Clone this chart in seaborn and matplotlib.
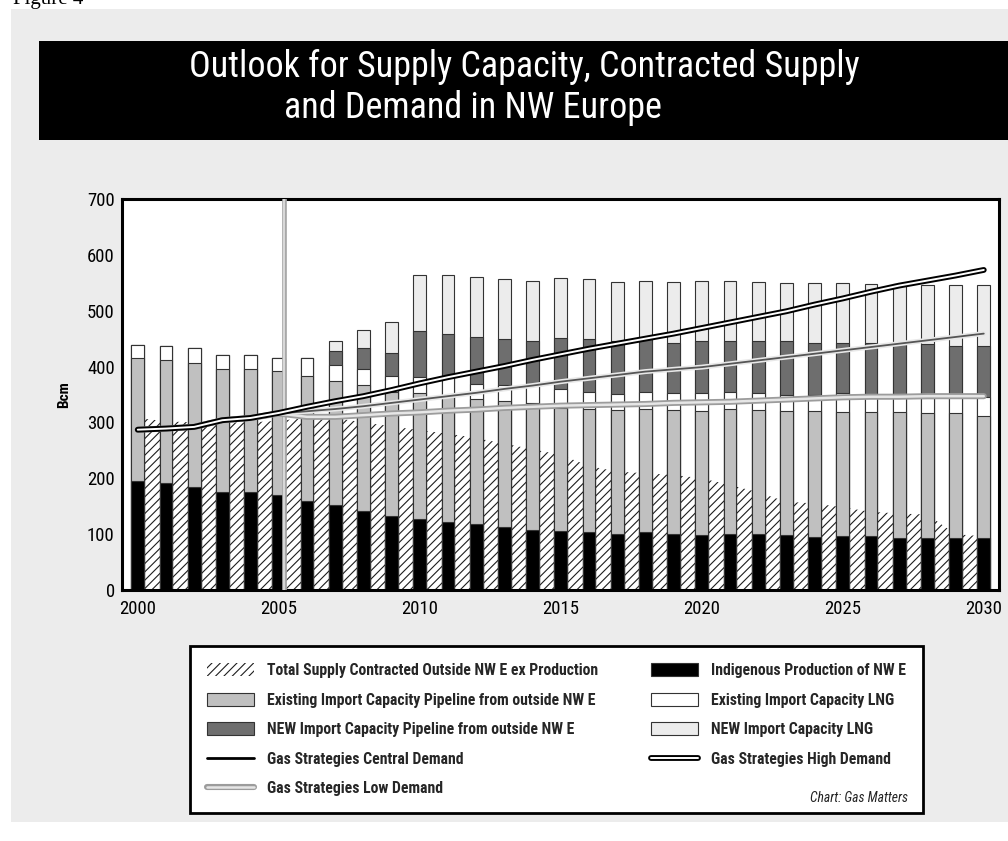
import numpy as np
import pandas as pd
import matplotlib
matplotlib.use("Agg")
import matplotlib.pyplot as plt
import matplotlib.patheffects as pe
from matplotlib import font_manager as fm
from matplotlib.patches import Patch, Rectangle
from matplotlib.lines import Line2D
import seaborn as sns

# ---------------- data ----------------
years = list(range(2000, 2031))
indigenous = [196, 191, 185, 175, 175, 170, 160, 152, 142, 133, 128, 122, 119, 113, 107, 106,
              103, 101, 103, 100, 99, 101, 101, 99, 94, 97, 97, 93, 93, 93, 93]
existing_pipeline = [219, 221, 222, 221, 221, 222, 223, 222, 225, 222, 225, 226, 223, 226, 227, 219,
                     221, 221, 221, 222, 221, 223, 221, 221, 226, 221, 221, 225, 223, 223, 219]
existing_lng = [24, 24, 26, 25, 25, 24, 32, 29, 29, 29, 29, 34, 27, 28, 35, 34,
                31, 29, 31, 30, 32, 30, 30, 29, 30, 34, 29, 30, 27, 29, 33]
new_pipeline = [0, 0, 0, 0, 0, 0, 0, 25, 38, 41, 82, 76, 84, 82, 77, 93,
                94, 95, 95, 91, 94, 92, 94, 97, 93, 90, 95, 92, 97, 92, 92]
new_lng = [0, 0, 0, 0, 0, 0, 0, 18, 31, 54, 100, 106, 107, 107, 108, 106,
           107, 105, 104, 108, 108, 108, 105, 103, 106, 107, 105, 107, 106, 109, 109]
contracted = [308, 302, 300, 300, 300, 303, 308, 308, 300, 293, 286, 280, 272, 262, 252, 242,
              222, 212, 209, 206, 200, 188, 175, 158, 155, 148, 140, 137, 135, 100, 96]
demand_high = [287, 289, 292, 304, 308, 317, 328, 338, 347, 358, 370, 381, 391, 401, 412, 422,
               432, 441, 450, 459, 469, 479, 489, 499, 511, 522, 534, 545, 554, 563, 573]
demand_central = [287, 289, 292, 304, 308, 316, 320, 324, 329, 335, 341, 347, 353, 360, 366, 373,
                  379, 385, 391, 395, 399, 405, 411, 417, 423, 429, 435, 441, 447, 453, 459]
demand_low = [287, 289, 292, 304, 308, 316, 310, 310, 313, 316, 318, 321, 323, 326, 328, 330,
              331, 332, 333, 335, 336, 337, 339, 341, 343, 345, 346, 346, 347, 347, 347]
marker_year = 2005.2
x_ticks = [2000, 2005, 2010, 2015, 2020, 2025, 2030]
y_ticks = [0, 100, 200, 300, 400, 500, 600, 700]

title_line1 = "Outlook for Supply Capacity, Contracted Supply"
title_line2 = "and Demand in NW Europe"
lab_contracted = "Total Supply Contracted Outside NW E ex Production"
lab_indig = "Indigenous Production of NW E"
lab_ex_pipe = "Existing Import Capacity Pipeline from outside NW E"
lab_ex_lng = "Existing Import Capacity LNG"
lab_new_pipe = "NEW Import Capacity Pipeline from outside NW E"
lab_new_lng = "NEW Import Capacity LNG"
lab_central = "Gas Strategies Central Demand"
lab_high = "Gas Strategies High Demand"
lab_low = "Gas Strategies Low Demand"

# ---------------- font choice (prefer a condensed sans) ----------------
def pick_condensed():
    names = {f.name for f in fm.fontManager.ttflist}
    for n in ["Liberation Sans Narrow", "Arial Narrow", "Roboto Condensed",
              "DejaVu Sans Condensed", "Noto Sans Condensed", "Open Sans Condensed"]:
        if n in names:
            return n, "normal", 1.0
    cond = [f for f in fm.fontManager.ttflist
            if (isinstance(f.stretch, str) and "condensed" in f.stretch)
            or (isinstance(f.stretch, int) and f.stretch < 500)]
    for pref in ["DejaVu Sans", "Noto Sans", "Open Sans", "Roboto", "Liberation Sans"]:
        for f in cond:
            if f.name == pref:
                return pref, "condensed", 1.0
    for n in ["Liberation Sans", "Roboto"]:
        if n in names:
            return n, "normal", 0.86
    return "DejaVu Sans", "normal", 0.8

FONT, STRETCH, SCALE = pick_condensed()

# ---------------- style ----------------
sns.set_theme(style="white")
plt.rcParams['font.family'] = [FONT, 'DejaVu Sans']
plt.rcParams['font.stretch'] = STRETCH
plt.rcParams['hatch.linewidth'] = 0.8

C_BLACK = "#000000"
C_EXPIPE = "#c0c0c0"
C_EXLNG = "#ffffff"
C_NEWPIPE = "#6e6e6e"
C_NEWLNG = "#ececec"
C_EDGE = "#333333"

W, H = 1008, 841
fig = plt.figure(figsize=(W / 100, H / 100), dpi=100)
fig.patch.set_facecolor("white")

fig.add_artist(Rectangle((11 / W, 1 - 822 / H), (W - 11) / W, (822 - 9) / H,
                         transform=fig.transFigure, facecolor="#ececec",
                         edgecolor="none", zorder=0))
fig.add_artist(Rectangle((39 / W, 1 - 140 / H), (W - 39) / W, 99 / H,
                         transform=fig.transFigure, facecolor="black",
                         edgecolor="none", zorder=1))
fig.text(524 / W, 1 - 67 / H, title_line1, color="white", fontsize=26 * SCALE,
         ha="center", va="center", zorder=2)
fig.text(473 / W, 1 - 108 / H, title_line2, color="white", fontsize=26 * SCALE,
         ha="center", va="center", zorder=2)
fig.text(13 / W, 1 - 4 / H, "Figure 4", family=["Liberation Serif", "DejaVu Serif"],
         fontsize=15, ha="left", va="baseline", color="black")

# ---------------- axes ----------------
ax_l, ax_r, ax_t, ax_b = 121.7, 999, 199, 590
ax = fig.add_axes([ax_l / W, 1 - ax_b / H, (ax_r - ax_l) / W, (ax_b - ax_t) / H])
ax.set_facecolor("white")

df = pd.DataFrame({
    "year": years,
    "indigenous": indigenous,
    "existing_pipeline": existing_pipeline,
    "existing_lng": existing_lng,
    "new_pipeline": new_pipeline,
    "new_lng": new_lng,
})
stack_cols = ["indigenous", "existing_pipeline", "existing_lng", "new_pipeline", "new_lng"]
colors = {"indigenous": C_BLACK, "existing_pipeline": C_EXPIPE, "existing_lng": C_EXLNG,
          "new_pipeline": C_NEWPIPE, "new_lng": C_NEWLNG}
cum = df[stack_cols].cumsum(axis=1)

ax.fill_between(years, 0, contracted, facecolor="white", edgecolor="#1e1e1e",
                hatch="////", linewidth=0, zorder=1)

for col in reversed(stack_cols):
    sns.barplot(x=df["year"], y=cum[col], native_scale=True, color=colors[col],
                saturation=1, width=0.45, edgecolor=C_EDGE, linewidth=0.8,
                errorbar=None, ax=ax, zorder=2)

ax.axvline(marker_year, color="#e2e2e2", lw=1.2, zorder=3,
           path_effects=[pe.Stroke(linewidth=3.4, foreground="#a8a8a8"), pe.Normal()])

low_pe = [pe.Stroke(linewidth=4.4, foreground="#9c9c9c", capstyle="round"), pe.Normal()]
central_pe = [pe.Stroke(linewidth=3.6, foreground="#e8e8e8", capstyle="round"), pe.Normal()]
high_pe = [pe.Stroke(linewidth=4.2, foreground="black", capstyle="round"), pe.Normal()]

sns.lineplot(x=years, y=demand_low, ax=ax, color="#e6e6e6", lw=1.8, zorder=4,
             legend=False, path_effects=low_pe, solid_capstyle="round")
sns.lineplot(x=years, y=demand_central, ax=ax, color="#555555", lw=1.3, zorder=5,
             legend=False, path_effects=central_pe, solid_capstyle="round")
sns.lineplot(x=years, y=demand_high, ax=ax, color="white", lw=1.4, zorder=6,
             legend=False, path_effects=high_pe, solid_capstyle="round")

ax.set_xlim(1999.43, 2030.54)
ax.set_ylim(0, 700)
ax.set_xticks(x_ticks)
ax.set_xticklabels([str(t) for t in x_ticks])
ax.set_yticks(y_ticks)
ax.set_yticklabels([str(t) for t in y_ticks])
ax.tick_params(axis="both", length=0, labelsize=13.5 * SCALE, colors="black")
ax.tick_params(axis="x", pad=7)
ax.tick_params(axis="y", pad=5)
ax.set_xlabel("")
ax.set_ylabel("Bcm", fontsize=11 * SCALE, fontweight="bold", color="black")
ax.yaxis.set_label_coords(-0.058, 0.5)
for s in ax.spines.values():
    s.set_visible(True)
    s.set_color("black")
    s.set_linewidth(2.2)
ax.grid(False)

# ---------------- legend ----------------
handles = [
    Patch(facecolor="white", edgecolor="#1e1e1e", hatch="////", linewidth=0, label=lab_contracted),
    Patch(facecolor=C_EXPIPE, edgecolor=C_EDGE, linewidth=0.8, label=lab_ex_pipe),
    Patch(facecolor=C_NEWPIPE, edgecolor=C_EDGE, linewidth=0.8, label=lab_new_pipe),
    Line2D([], [], color="black", lw=2.0, label=lab_central),
    Line2D([], [], color="#e6e6e6", lw=1.8, path_effects=low_pe,
           solid_capstyle="round", label=lab_low),
    Patch(facecolor=C_BLACK, edgecolor=C_EDGE, linewidth=0.8, label=lab_indig),
    Patch(facecolor=C_EXLNG, edgecolor=C_EDGE, linewidth=0.8, label=lab_ex_lng),
    Patch(facecolor=C_NEWLNG, edgecolor=C_EDGE, linewidth=0.8, label=lab_new_lng),
    Line2D([], [], color="white", lw=1.4, path_effects=high_pe,
           solid_capstyle="round", label=lab_high),
]
LFS = 11.3 * SCALE
LPX = LFS * 100 / 72
leg = fig.legend(handles=handles, loc="upper left", ncol=2, mode="expand",
                 bbox_to_anchor=(190 / W, 1 - 813 / H, 733 / W, 167 / H),
                 frameon=True, fancybox=False, framealpha=1, facecolor="white",
                 edgecolor="black", prop={"weight": "bold", "size": LFS},
                 handlelength=47 / LPX, handleheight=14 / LPX,
                 handletextpad=13 / LPX,
                 columnspacing=1.0, labelspacing=0.92, borderpad=1.1,
                 borderaxespad=0)
leg.get_frame().set_linewidth(2.0)
fig.text(908 / W, 1 - 798 / H, "Chart: Gas Matters", style="italic", fontsize=9.8 * SCALE,
         ha="right", va="center", color="#222222", zorder=10)

fig.savefig("out.png", dpi=100, facecolor=fig.get_facecolor())
